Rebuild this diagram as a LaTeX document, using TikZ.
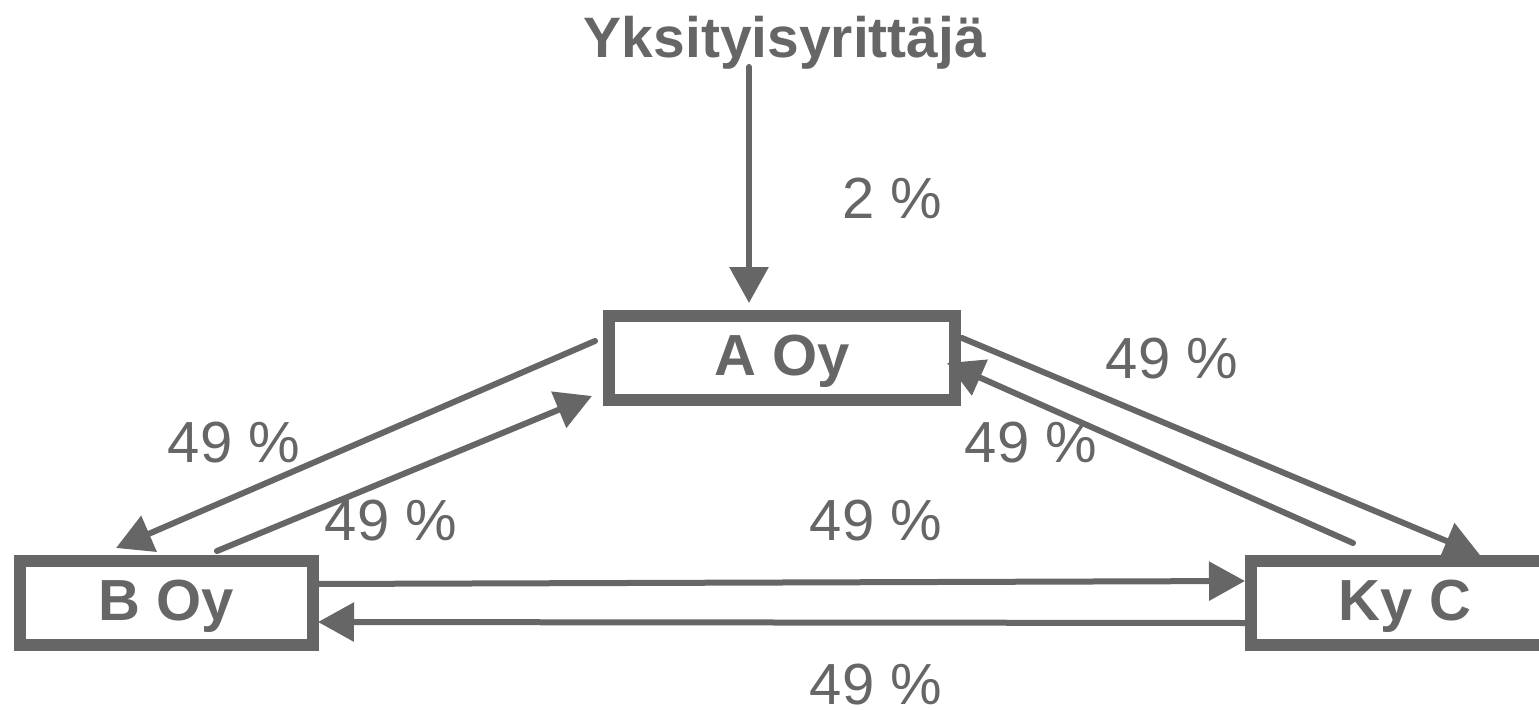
\documentclass[tikz,border=0pt]{standalone}
\usepackage{fontspec}
\setmainfont{Liberation Sans}
\usetikzlibrary{arrows.meta}
\definecolor{dg}{HTML}{666666}
\begin{document}
\begin{tikzpicture}[x=0.5pt,y=-0.5pt,
 box/.style={draw=dg, line width=6pt, minimum height=42pt, inner sep=0pt,
   font=\fontsize{29}{34}\selectfont\bfseries, text=dg, text height=20pt, text depth=3pt},
 lab/.style={font=\fontsize{29}{34}\selectfont, text=dg, anchor=base, inner sep=0pt},
 conn/.style={draw=dg, line width=3pt, line cap=round, -{Triangle[length=18pt,width=19pt]}}]
\useasboundingbox (0,0) rectangle (1539,709);
% boxes
\node[box, minimum width=173pt] (A) at (782,358) {A Oy};
\node[box, minimum width=146.5pt] (B) at (166.5,603) {B Oy};
\node[box, minimum width=154pt] (C) at (1405,603) {Ky C};
\node[lab, font=\fontsize{28.5}{33}\selectfont\bfseries] (Y) at (785,57) {Yksityisyrittäjä};
% labels
\node[lab] (l1) at (892,218) {2 \%};
\node[lab] (l2) at (1172,378) {49 \%};
\node[lab] (l3) at (1031,462) {49 \%};
\node[lab] (l4) at (234,462) {49 \%};
\node[lab] (l5) at (391,540) {49 \%};
\node[lab] (l6) at (876,540) {49 \%};
\node[lab] (l7) at (876,704) {49 \%};
% connector end points
\coordinate (y0) at (749,67);   \coordinate (a0) at (749,303);
\coordinate (ab0) at (595,341); \coordinate (ab1) at (116,548);
\coordinate (ba0) at (217,551); \coordinate (ba1) at (592,396);
\coordinate (ac0) at (962,338); \coordinate (ac1) at (1480,555);
\coordinate (ca0) at (1353,543); \coordinate (ca1) at (947,363);
\coordinate (bc0) at (313,584); \coordinate (bc1) at (1245,581);
\coordinate (cb0) at (1251,623); \coordinate (cb1) at (318,622);
% connectors
\draw[conn] (y0) -- (a0);
\draw[conn] (ab0) -- (ab1);
\draw[conn] (ba0) -- (ba1);
\draw[conn] (ac0) -- (ac1);
\draw[conn] (ca0) -- (ca1);
\draw[conn] (bc0) -- (bc1);
\draw[conn] (cb0) -- (cb1);
\end{tikzpicture}
\end{document}
